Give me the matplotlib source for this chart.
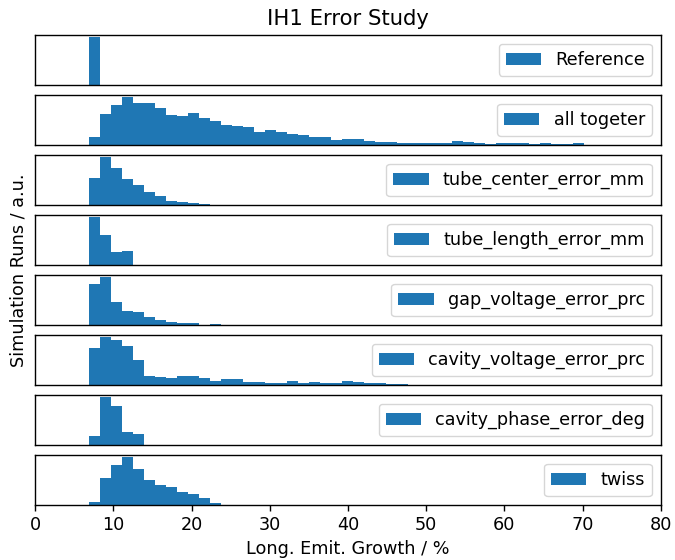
import numpy as np
import matplotlib
matplotlib.use("Agg")
import matplotlib.pyplot as plt

# Common histogram bins (Long. Emit. Growth / %)
bin_start = 6.93
bin_width = 1.405
n_bins = 46

labels = ["Reference", "all togeter", "tube_center_error_mm", "tube_length_error_mm",
          "gap_voltage_error_prc", "cavity_voltage_error_prc",
          "cavity_phase_error_deg", "twiss"]

reference = [100]
all_togeter = [25, 90, 117, 140, 123, 123, 110, 87, 85, 93, 78, 70, 60, 55, 52, 38,
               45, 37, 33, 30, 23, 25, 15, 18, 18, 12, 10, 8, 7, 7, 6, 5, 6, 12, 9,
               5, 3, 5, 7, 5, 3, 7, 3, 2, 6]
tube_center_error_mm = [81, 141, 111, 78, 58, 40, 28, 13, 10, 7, 3, 1]
tube_length_error_mm = [141, 90, 40, 43]
gap_voltage_error_prc = [123, 141, 68, 43, 38, 23, 15, 10, 6, 5, 1, 4]
cavity_voltage_error_prc = [110, 142, 135, 118, 75, 28, 23, 22, 28, 27, 22, 13, 18,
                            17, 10, 8, 5, 5, 12, 7, 10, 5, 7, 13, 8, 5, 5, 4, 2]
cavity_phase_error_deg = [28, 143, 118, 38, 33]
twiss = [8, 80, 118, 140, 105, 73, 60, 52, 38, 32, 20, 7]

series = [reference, all_togeter, tube_center_error_mm, tube_length_error_mm,
          gap_voltage_error_prc, cavity_voltage_error_prc, cavity_phase_error_deg, twiss]

edges = bin_start + bin_width * np.arange(n_bins + 1)

plt.rcParams["axes.linewidth"] = 1.0
plt.rcParams["xtick.major.width"] = 1.0
plt.rcParams["xtick.major.size"] = 4.4

fig, axes = plt.subplots(8, 1, figsize=(6.75, 5.6), dpi=100, sharex=True)
fig.subplots_adjust(left=0.052, right=0.979, top=0.9375, bottom=0.098, hspace=0.2)

fs = 12.7
for ax, lab, counts in zip(axes, labels, series):
    counts = np.array(counts, dtype=float)
    centers = (edges[:-1] + edges[1:]) / 2
    ax.hist(centers[:len(counts)], bins=edges[:len(counts) + 1], weights=counts,
            color="#1f77b4", label=lab)
    ax.set_yticks([])
    ax.set_xlim(0, 80)
    ax.legend(loc="upper right", fontsize=fs)
    ax.tick_params(axis="x", which="both", bottom=False, labelbottom=False)

axes[-1].tick_params(axis="x", bottom=True, labelbottom=True, labelsize=fs)
axes[-1].set_xticks(np.arange(0, 81, 10))
axes[-1].set_xlabel("Long. Emit. Growth / %", fontsize=fs, labelpad=4)
axes[0].set_title("IH1 Error Study", fontsize=15.2, pad=7)
fig.text(0.027, 0.517, "Simulation Runs / a.u.", rotation=90, va="center", ha="center",
         fontsize=fs)

fig.savefig("out.png", dpi=100)
